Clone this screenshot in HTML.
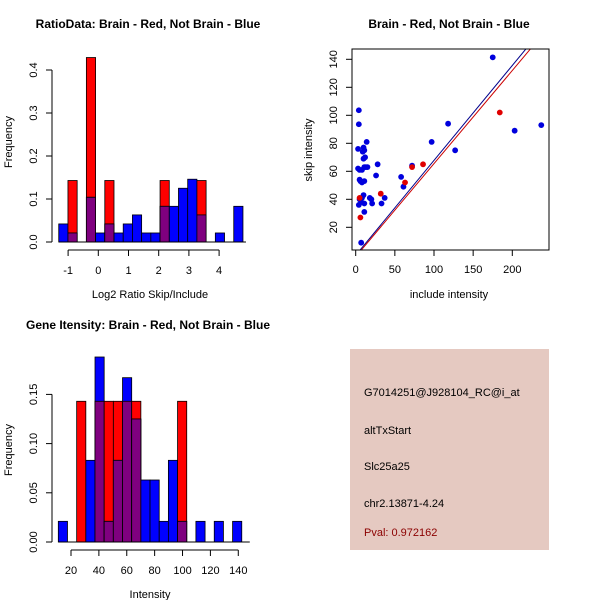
<!DOCTYPE html>
<html><head><meta charset="utf-8"><style>
html,body{margin:0;padding:0;background:#fff;}
svg{display:block;font-family:"Liberation Sans",sans-serif;}
</style></head><body>
<svg id="s" width="600" height="600" xmlns="http://www.w3.org/2000/svg">
<rect width="600" height="600" fill="#fff"/>
<text x="148" y="28" font-size="12" font-weight="bold" text-anchor="middle">RatioData: Brain - Red, Not Brain - Blue</text>
<text x="449" y="28" font-size="12" font-weight="bold" text-anchor="middle">Brain - Red, Not Brain - Blue</text>
<text x="148" y="329" font-size="12" font-weight="bold" text-anchor="middle">Gene Itensity: Brain - Red, Not Brain - Blue</text>
<text x="150" y="298" font-size="11" text-anchor="middle">Log2 Ratio Skip/Include</text>
<text x="449" y="298" font-size="11" text-anchor="middle">include intensity</text>
<text x="150" y="598" font-size="11" text-anchor="middle">Intensity</text>
<text transform="translate(12,142) rotate(-90)" font-size="11" text-anchor="middle">Frequency</text>
<text transform="translate(312,150) rotate(-90)" font-size="11" text-anchor="middle">skip intensity</text>
<text transform="translate(12,450) rotate(-90)" font-size="11" text-anchor="middle">Frequency</text>
<rect x="350" y="349" width="199" height="201" fill="#e5c9c1"/>
<text x="364" y="396" font-size="11">G7014251@J928104_RC@i_at</text>
<text x="364" y="434" font-size="11">altTxStart</text>
<text x="364" y="470" font-size="11">Slc25a25</text>
<text x="364" y="507" font-size="11">chr2.13871-4.24</text>
<text x="364" y="536" font-size="11" fill="#8b0000">Pval: 0.972162</text>
</svg>
<script>
// Ratio histogram data
const ratioStart = -1.31, ratioWidth = 0.305;
const ratioBlue = [0.042,0.021,0,0.104,0.021,0.042,0.021,0.042,0.063,0.021,0.021,0.083,0.083,0.125,0.146,0.063,0,0.021,0,0.083];
const ratioRed  = [0,0.143,0,0.429,0,0.143,0,0,0,0,0,0.143,0,0,0,0.143,0,0,0,0];
const ratioXTicks = [-1,0,1,2,3,4];
const ratioYTicks = ["0.0","0.1","0.2","0.3","0.4"];
// Intensity histogram data
const intStart = 10.9, intWidth = 6.58;
const intBlue = [0.021,0,0,0.083,0.188,0.021,0.083,0.167,0.125,0.063,0.063,0.021,0.083,0.021,0,0.021,0,0.021,0,0.021];
const intRed  = [0,0,0.143,0,0.143,0.143,0.143,0.143,0.143,0,0,0,0,0.143,0,0,0,0,0,0];
const intXTicks = [20,40,60,80,100,120,140];
const intYTicks = ["0.00","0.05","0.10","0.15"];
// Scatter data
const blueX = [175,118,203,237,127,97,72,61,58,28,26,33,37,20,21,18,4,4,3,3,5,8,11,14,11,10,9,10,12,15,13,5,6,11,8,10,8,5,11,7,4,11,7];
const blueY = [141.4,94,89,93,75,81,64,49,56,65,57,37,41,40,37,41,103.6,93.6,76,62,61,61,63,81,75,77,74,69,70,63,63,54,53,53,52,43,41,40,37,38,36,31,9];
const redX = [184,63,86,72,32,6,5];
const redY = [102,52,65,63,44,27,41];
const blueLine = [0.678, 0];   // slope, intercept
const redLine = [0.665, -1];
const scXTicks = [0,50,100,150,200];
const scYTicks = [20,40,60,80,100,120,140];

const S = document.getElementById('s');
const NS = 'http://www.w3.org/2000/svg';
function mk(tag, attrs, parent){const e=document.createElementNS(NS,tag);for(const k in attrs)e.setAttribute(k,attrs[k]);(parent||S).appendChild(e);return e;}

function hist(start, width, blue, red, yScale, xScale, base, name){
  const g = mk('g',{});
  
  
  for(let i=0;i<blue.length;i++){
    const x0=xScale(start+i*width), x1=xScale(start+(i+1)*width);
    const b=blue[i], r=red[i];
    if(r>0){const e=mk('rect',{x:x0,y:yScale(r),width:x1-x0,height:base-yScale(r),fill:'#ff0000',stroke:'#000','stroke-width':0.8},g);
      
      }
    if(b>0){const e=mk('rect',{x:x0,y:yScale(b),width:x1-x0,height:base-yScale(b),fill:'#0000ff',stroke:'#000','stroke-width':0.8},g);
      
      }
    if(r>0&&b>0){const m=Math.min(r,b);const e=mk('rect',{x:x0,y:yScale(m),width:x1-x0,height:base-yScale(m),fill:'#7f007f',stroke:'#000','stroke-width':0.8},g);
      
      }
  }
  return g;
}
function yAxis(x, yt, vals, yScale, name){
  const g=mk('g',{});
  
  
  mk('line',{x1:x,x2:x,y1:yScale(vals[0]),y2:yScale(vals[vals.length-1]),stroke:'#000'},g);
  vals.forEach((v,i)=>{const y=yScale(v);
    mk('line',{x1:x-6,x2:x,y1:y,y2:y,stroke:'#000'},g);
    mk('text',{transform:`translate(${x-15},${y}) rotate(-90)`,'font-size':11,'text-anchor':'middle'},g).textContent=yt[i];});
}
function xAxis(y, vals, labels, xScale, name){
  const g=mk('g',{});
  
  
  mk('line',{x1:xScale(vals[0]),x2:xScale(vals[vals.length-1]),y1:y,y2:y,stroke:'#000'},g);
  vals.forEach((v,i)=>{const x=xScale(v);
    mk('line',{x1:x,x2:x,y1:y,y2:y+6,stroke:'#000'},g);
    mk('text',{x:x,y:y+24,'font-size':11,'text-anchor':'middle'},g).textContent=labels[i];});
}

// Ratio histogram
const rX = v => 98.3 + v*30.2, rY = v => 242 - v*430;
hist(ratioStart, ratioWidth, ratioBlue, ratioRed, rY, rX, 242, 'ratio-hist');
mk('line',{x1:rX(ratioStart),x2:rX(ratioStart+20*ratioWidth)+3,y1:242,y2:242,stroke:'#000'});
yAxis(52, ratioYTicks, ratioYTicks.map(Number), rY, 'ratio-y-axis');
xAxis(250, ratioXTicks, ratioXTicks, rX, 'ratio-x-axis');

// Intensity histogram
const iX = v => 71 + (v-20)*1.394, iY = v => 542 - v*984;
hist(intStart, intWidth, intBlue, intRed, iY, iX, 542, 'intensity-hist');
mk('line',{x1:iX(intStart),x2:iX(intStart+20*intWidth)+8,y1:542,y2:542,stroke:'#000'});
yAxis(52, intYTicks, intYTicks.map(Number), iY, 'intensity-y-axis');
xAxis(550, intXTicks, intXTicks, iX, 'intensity-x-axis');

// Scatter
const sX = v => 355.7 + v*0.783, sY = v => 227.3 - (v-20)*1.4;
const clip = mk('clipPath',{id:'cp'}); mk('rect',{x:352,y:49,width:197,height:201},clip);
const lines = mk('g',{'clip-path':'url(#cp)'});


[[blueLine,'#00008b'],[redLine,'#cc0000']].forEach(([l,c])=>{
  const x0=0,x1=260;
  const e=mk('line',{x1:sX(x0),y1:sY(l[0]*x0+l[1]),x2:sX(x1),y2:sY(l[0]*x1+l[1]),stroke:c,'stroke-width':1},lines);
  
  
});
blueX.forEach((x,i)=>{const e=mk('circle',{cx:sX(x),cy:sY(blueY[i]),r:2.9,fill:'#0000dd'});
  
  });
redX.forEach((x,i)=>{const e=mk('circle',{cx:sX(x),cy:sY(redY[i]),r:2.9,fill:'#e00000'});
  
  });
const box=mk('rect',{x:352,y:49,width:197,height:201,fill:'none',stroke:'#000'});


(function(){
  const g=mk('g',{});
  
  
  scXTicks.forEach(v=>{const x=sX(v);mk('line',{x1:x,x2:x,y1:250,y2:256,stroke:'#000'},g);
    mk('text',{x:x,y:273,'font-size':11,'text-anchor':'middle'},g).textContent=v;});
  const g2=mk('g',{});
  
  
  scYTicks.forEach(v=>{const y=sY(v);mk('line',{x1:346,x2:352,y1:y,y2:y,stroke:'#000'},g2);
    mk('text',{transform:`translate(337,${y}) rotate(-90)`,'font-size':11,'text-anchor':'middle'},g2).textContent=v;});
})();
</script>
</body></html>
